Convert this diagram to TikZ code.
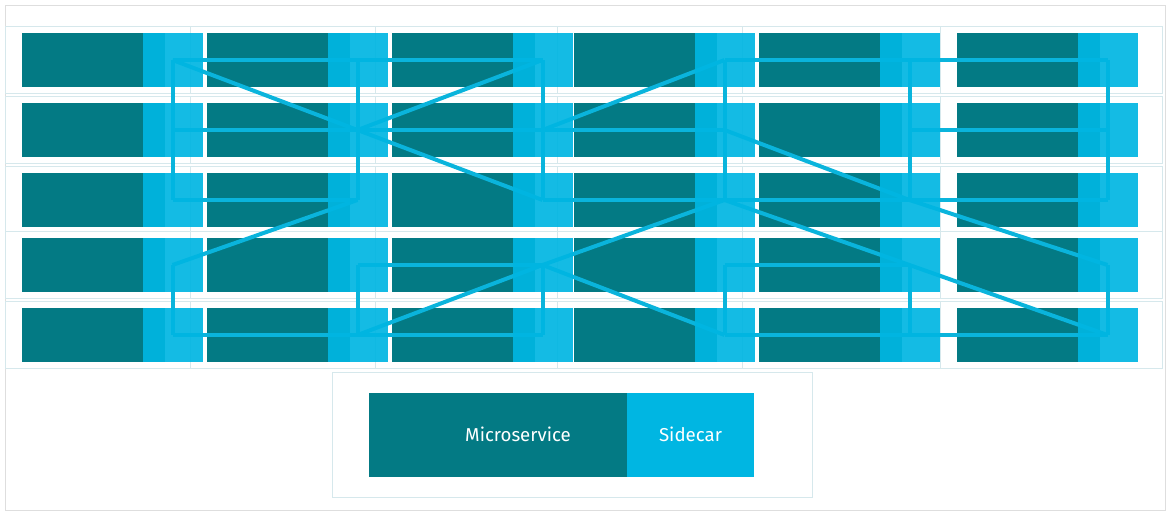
\documentclass[tikz,border=0pt]{standalone}
\usepackage{fontspec}
\setmainfont{Fira Sans}
\definecolor{teal}{RGB}{3,122,132}
\definecolor{sky}{RGB}{0,182,226}
\definecolor{wire}{RGB}{10,180,220}
\definecolor{pale}{RGB}{214,232,236}
\tikzset{every picture/.style={line width=0.75pt}}
\tikzset{
  cell/.style={draw=pale, fill=white, minimum width=167, minimum height=50, inner sep=0},
  service/.style={fill=teal, minimum width=107, minimum height=40, inner sep=0},
  sidecar/.style={fill=sky, minimum width=45, minimum height=40, inner sep=0},
  link/.style={draw=wire, line width=3pt},
  caption/.style={text=white, font=\fontsize{14}{16}\selectfont}
}
\begin{document}
\begin{tikzpicture}[x=0.75pt,y=0.75pt,yscale=-1,xscale=1]
\useasboundingbox (0,0) rectangle (1170,515);

%Frame
\draw [draw={rgb, 255:red, 222; green, 222; blue, 222}] (5,5) rectangle (1165,510);

%Cells: columns at their left edge, rows at their centre
\foreach \c/\x in {1/33,2/218,3/403,4/585,5/770,6/968}{
  \foreach \r/\y in {1/60,2/130,3/200,4/265,5/335}{
    \node [cell] (cell-\c-\r) at (\x+83.5,\y) {};
    \node [service] (svc-\c-\r) at (\x+60.5,\y) {};
    \coordinate (\c-\r) at (\x+139.5,\y);
  }
}

%Links between sidecars
\foreach \a/\b in {1-1/2-1, 2-1/3-1, 4-1/5-1, 5-1/6-1,
                   1-2/2-2, 2-2/3-2, 3-2/4-2, 5-2/6-2,
                   1-3/2-3, 3-3/4-3, 4-3/5-3, 5-3/6-3,
                   2-4/3-4, 4-4/5-4,
                   1-5/2-5, 2-5/3-5, 4-5/5-5, 5-5/6-5,
                   1-1/2-2, 2-2/3-1, 2-2/3-3, 2-3/1-4, 3-2/4-1, 3-4/2-5,
                   4-3/3-4, 4-3/5-4, 3-4/4-5, 4-2/5-3, 5-3/6-4, 5-4/6-5}
  \path [link] (\a) -- (\b);
\foreach \c in {1,...,6}{
  \path [link] (\c-1) -- (\c-2) -- (\c-3);
  \path [link] (\c-4) -- (\c-5);
}

%Sidecars on top
\foreach \c in {1,...,6}{
  \foreach \r in {1,...,5}{
    \node [sidecar, fill opacity=0.92] (car-\c-\r) at (\c-\r) {};
  }
}

%Legend
\node [cell, minimum width=360, minimum height=94] (legend) at (572,435) {};
\node [service, minimum width=224, minimum height=63, caption] (legend-svc) at (518,434.5) {Microservice};
\node [sidecar, minimum width=95, minimum height=63, caption] (legend-car) at (690.5,434.5) {Sidecar};

\end{tikzpicture}
\end{document}
